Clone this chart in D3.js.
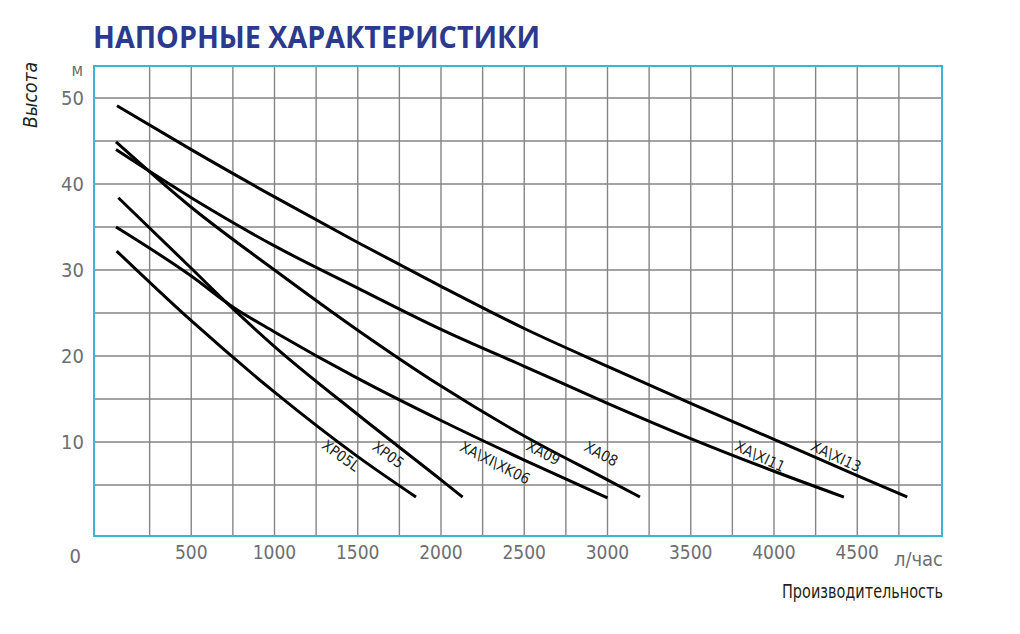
<!DOCTYPE html>
<html>
<head>
<meta charset="utf-8">
<script src="https://cdn.jsdelivr.net/npm/d3@7"></script>
<style>
  html, body { margin: 0; padding: 0; background: #ffffff; }
  svg { display: block; }
  .cond { font-family: "Liberation Sans Narrow", "DejaVu Sans Condensed", "Roboto", sans-serif; }
</style>
</head>
<body>
<svg id="chart" width="1020" height="634"></svg>
<script>
// ---- Data (flow l/h, head m) ----
const titleText = "НАПОРНЫЕ ХАРАКТЕРИСТИКИ";
const flowTickLabels = [500, 1000, 1500, 2000, 2500, 3000, 3500, 4000, 4500];
const headTickLabels = [10, 20, 30, 40, 50];
const flowGrid = d3.range(250, 5000, 250);
const headGrid = d3.range(5, 55, 5);

const curveXAXI13 = [[54,49.1],[500,44.0],[1000,38.5],[1500,33.2],[2000,28.1],[2500,23.2],[3000,18.8],[3500,14.5],[4000,10.3],[4500,6.1],[4800,3.6]];
const curveXAXI11 = [[48,44.0],[500,38.4],[1000,32.8],[1500,27.9],[2000,23.1],[2500,18.8],[3000,14.5],[3500,10.4],[4000,6.6],[4420,3.6]];
const curveXA09   = [[48,44.9],[500,37.3],[1000,30.0],[1500,23.0],[2000,16.5],[2500,10.7],[3000,5.6],[3195,3.6]];
const curveXK06   = [[48,35.0],[500,29.3],[750,25.7],[1000,22.8],[1500,17.4],[2000,12.5],[2500,7.9],[3000,3.5]];
const curveXP05   = [[62,38.4],[500,30.2],[750,25.5],[1000,21.1],[1500,13.2],[2000,5.6],[2130,3.6]];
const curveXP05L  = [[52,32.2],[500,24.1],[1000,15.8],[1500,8.3],[1850,3.6]];

const curves = [curveXAXI13, curveXAXI11, curveXA09, curveXK06, curveXP05, curveXP05L];

// label: text, flow, head, angle
const labelTexts = ["XP05L", "XP05", "XA\\XI\\XK06", "XA09", "XA08", "XA\\XI11", "XA\\XI13"];
const labelFlows = [1398, 1682, 2324, 2613, 2961, 3916, 4372];
const labelHeads = [8.4, 8.5, 7.56, 8.72, 8.6, 8.3, 8.3];
const labelAngles = [36, 36, 27, 27, 28, 25, 25];

// ---- Drawing ----
const svg = d3.select("#chart");
const x = d3.scaleLinear().domain([0, 5000]).range([108, 940.5]);
const y = d3.scaleLinear().domain([0, 50]).range([528, 98]);

const frame = {left: 94, right: 942, top: 66, bottom: 536};
const gridColor = "#858585";
const frameColor = "#3cb4d7";
const labelGray = "#6d6e71";
const dark = "#231f20";

svg.append("rect").attr("width", 1020).attr("height", 634).attr("fill", "#fff");

// Title
svg.append("text")
  .attr("x", 93).attr("y", 48)
  .attr("font-family", "'Open Sans', 'DejaVu Sans', sans-serif")
  .attr("font-weight", 700)
  .attr("font-size", 31)
  .attr("fill", "#2b3a8e")
  .attr("textLength", 447)
  .attr("lengthAdjust", "spacingAndGlyphs")
  .text(titleText);

// Grid
const g = svg.append("g");
g.selectAll("line.v").data(flowGrid).enter().append("line")
  .attr("x1", d => x(d)).attr("x2", d => x(d))
  .attr("y1", frame.top).attr("y2", frame.bottom)
  .attr("stroke", gridColor).attr("stroke-width", 1.4);
g.selectAll("line.h").data(headGrid).enter().append("line")
  .attr("x1", frame.left).attr("x2", frame.right)
  .attr("y1", d => y(d)).attr("y2", d => y(d))
  .attr("stroke", gridColor).attr("stroke-width", 1.4);

// Frame
svg.append("rect")
  .attr("x", frame.left).attr("y", frame.top)
  .attr("width", frame.right - frame.left).attr("height", frame.bottom - frame.top)
  .attr("fill", "none").attr("stroke", frameColor).attr("stroke-width", 2);

// Curves
const line = d3.line().x(d => x(d[0])).y(d => y(d[1])).curve(d3.curveMonotoneX);
svg.selectAll("path.curve").data(curves).enter().append("path")
  .attr("d", line)
  .attr("fill", "none").attr("stroke", "#000").attr("stroke-width", 3)
  .attr("stroke-linecap", "butt");

// Curve labels
svg.selectAll("text.lbl").data(labelTexts).enter().append("text")
  .attr("class", "cond")
  .attr("transform", (d, i) => `translate(${x(labelFlows[i])},${y(labelHeads[i])}) rotate(${labelAngles[i]})`)
  .attr("text-anchor", "middle")
  .attr("dominant-baseline", "central")
  .attr("font-size", 15)
  .attr("fill", dark)
  .text(d => d);

// Y tick labels
svg.selectAll("text.yt").data(headTickLabels).enter().append("text")
  .attr("class", "cond")
  .attr("x", 84).attr("y", d => y(d) + 7)
  .attr("text-anchor", "end")
  .attr("font-size", 20)
  .attr("fill", labelGray)
  .text(d => d);
svg.append("text").attr("class", "cond")
  .attr("x", 81).attr("y", 563).attr("text-anchor", "end")
  .attr("font-size", 20).attr("fill", labelGray).text("0");
svg.append("text").attr("class", "cond")
  .attr("x", 83).attr("y", 76).attr("text-anchor", "end")
  .attr("font-size", 17).attr("fill", labelGray).text("м");

// X tick labels
svg.selectAll("text.xt").data(flowTickLabels).enter().append("text")
  .attr("class", "cond")
  .attr("x", d => x(d)).attr("y", 559)
  .attr("text-anchor", "middle")
  .attr("font-size", 19)
  .attr("fill", labelGray)
  .text(d => d);
svg.append("text").attr("class", "cond")
  .attr("x", 943).attr("y", 566).attr("text-anchor", "end")
  .attr("font-size", 20).attr("fill", labelGray).text("л/час");

// Axis titles
svg.append("text").attr("class", "cond")
  .attr("x", 943).attr("y", 598).attr("text-anchor", "end")
  .attr("font-size", 20).attr("fill", dark)
  .attr("textLength", 161).attr("lengthAdjust", "spacingAndGlyphs")
  .text("Производительность");
svg.append("text").attr("class", "cond")
  .attr("transform", "translate(37,95) rotate(-90)")
  .attr("text-anchor", "middle")
  .attr("font-size", 19).attr("font-style", "italic").attr("fill", dark)
  .attr("textLength", 66).attr("lengthAdjust", "spacingAndGlyphs")
  .text("Высота");
</script>
</body>
</html>
